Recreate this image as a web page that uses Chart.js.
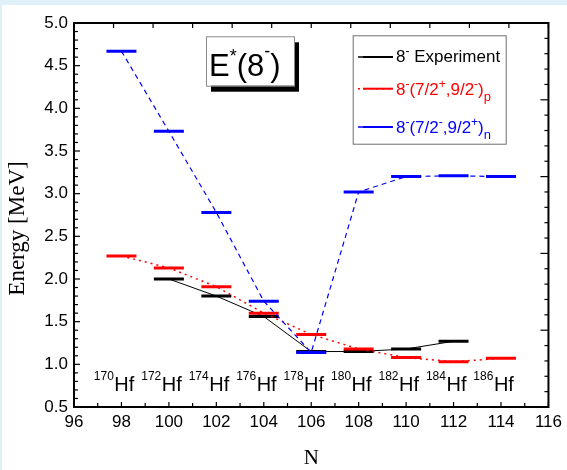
<!DOCTYPE html>
<html>
<head>
<meta charset="utf-8">
<script src="https://cdn.jsdelivr.net/npm/chart.js@4.4.1/dist/chart.umd.min.js"></script>
<style>
  html, body { margin: 0; padding: 0; background: #dff0f9; }
  #panel { position: absolute; left: 2px; top: 5px; width: 565px; height: 465px; background: #fff; }
</style>
</head>
<body>
<div id="panel"><canvas id="chart" width="565" height="465"></canvas></div>
<script>
"use strict";

// neutron number of each Hf isotope
const nNumbers = [98, 100, 102, 104, 106, 108, 110, 112, 114];
const isotopes = ["170", "172", "174", "176", "178", "180", "182", "184", "186"];

// 8- energies in MeV
const expN = [100, 102, 104, 106, 108, 110, 112];
const expEnergy = [2.00, 1.80, 1.56, 1.15, 1.15, 1.18, 1.27];
const protonEnergy = [2.27, 2.13, 1.91, 1.60, 1.35, 1.18, 1.08, 1.03, 1.07];
const neutronEnergy = [4.67, 3.73, 2.78, 1.74, 1.14, 3.02, 3.20, 3.21, 3.20];

// axis ranges
const xRange = [96, 116];
const yRange = [0.5, 5.0];

const sans = '"Liberation Sans", Arial, sans-serif';
const serif = '"Liberation Serif", "Times New Roman", serif';

// legend texts as [text, size, dy] runs (super/subscripts)
const legendRuns = [
    [["8", 17], ["-", 12, -7], [" Experiment", 17]],
    [["8", 17], ["-", 12, -7], ["(7/2", 17], ["+", 12, -7], [",9/2", 17], ["-", 12, -7], [")", 17], ["p", 13, 6]],
    [["8", 17], ["-", 12, -7], ["(7/2", 17], ["-", 12, -7], [",9/2", 17], ["+", 12, -7], [")", 17], ["n", 13, 6]]
];

function toPoints(xs, ys) {
    return xs.map((x, i) => ({ x: x, y: ys[i] }));
}

function richText(ctx, x, y, runs, family, color) {
    ctx.fillStyle = color;
    ctx.textAlign = "left";
    ctx.textBaseline = "alphabetic";
    runs.forEach(r => {
        ctx.font = r[1] + "px " + family;
        ctx.fillText(r[0], x, y + (r[2] || 0));
        x += ctx.measureText(r[0]).width;
    });
    return x;
}

// inward tick marks along one side of the frame
function tickMarks(ctx, scale, from, count, step, majorEvery, pos, dir, majorLen, minorLen) {
    const horiz = scale.isHorizontal();
    for (let i = 0; i <= count; i++) {
        const p = scale.getPixelForValue(from + i * step);
        const len = (i % majorEvery === 0) ? majorLen : minorLen;
        ctx.beginPath();
        if (horiz) {
            ctx.moveTo(p, pos);
            ctx.lineTo(p, pos + dir * len);
        } else {
            ctx.moveTo(pos, p);
            ctx.lineTo(pos + dir * len, p);
        }
        ctx.stroke();
    }
}

const decor = {
    id: "decor",
    afterDatasetsDraw(chart) {
        const { ctx, chartArea: a, scales } = chart;
        ctx.save();

        // isotope labels
        const yLab = scales.y.getPixelForValue(0.69);
        nNumbers.forEach((n, i) => {
            const x = scales.x.getPixelForValue(n - 0.3);
            ctx.font = "20px " + sans;
            ctx.fillStyle = "#000";
            ctx.textAlign = "left";
            ctx.textBaseline = "alphabetic";
            ctx.fillText("Hf", x, yLab);
            ctx.font = "12px " + sans;
            ctx.textAlign = "right";
            ctx.fillText(isotopes[i], x - 0.5, yLab - 10.5);
        });

        // frame and ticks
        ctx.strokeStyle = "#000";
        ctx.lineWidth = 1.2;
        tickMarks(ctx, scales.x, xRange[0], 20, 1, 2, a.bottom, -1, 5, 4);
        tickMarks(ctx, scales.y, yRange[0], 45, 0.1, 5, a.left, 1, 6, 4);
        tickMarks(ctx, scales.x2, 0, 12, 1, 1, a.top, 1, 5, 5);
        tickMarks(ctx, scales.y2, 0, 25, 0.2, 5, a.right, -1, 8, 4);
        ctx.lineWidth = 2;
        ctx.strokeRect(a.left, a.top, a.right - a.left, a.bottom - a.top);

        // title box with shadow
        const bx = a.left + 132, by = a.top + 13.3, bw = 88, bh = 49.4;
        ctx.fillStyle = "#000";
        ctx.fillRect(bx + 5, by + 6, bw, bh);
        ctx.fillStyle = "#fff";
        ctx.fillRect(bx, by, bw, bh);
        ctx.strokeStyle = "#8a8a8a";
        ctx.lineWidth = 1;
        ctx.strokeRect(bx + 0.5, by + 0.5, bw, bh);
        richText(ctx, bx + 3, by + 39.6, [["E", 31], ["*", 18, -14], ["(8", 31], ["-", 18, -19], [")", 31]], sans, "#000");

        // legend box
        const lx = a.left + 278.7, ly = a.top + 12.3, lw = 153, lh = 108.4;
        const rowLine = [21.7, 53.4, 91.7];
        const rowText = [27, 59.3, 97.7];
        ctx.fillStyle = "#fff";
        ctx.fillRect(lx, ly, lw, lh);
        ctx.strokeStyle = "#6e6e6e";
        ctx.strokeRect(lx + 0.5, ly + 0.5, lw, lh);
        chart.data.datasets.forEach((ds, i) => {
            const yy = ly + rowLine[i];
            ctx.strokeStyle = ds.borderColor;
            ctx.lineWidth = 1.5;
            ctx.setLineDash(ds.borderDash || []);
            ctx.beginPath();
            ctx.moveTo(lx + 5.3, yy);
            ctx.lineTo(lx + 40.3, yy);
            ctx.stroke();
            ctx.setLineDash([]);
            ctx.lineWidth = 2;
            ctx.beginPath();
            ctx.moveTo(lx + 10.3, yy);
            ctx.lineTo(lx + 40.3, yy);
            ctx.stroke();
            richText(ctx, lx + 43.3, ly + rowText[i], legendRuns[i], sans, ds.borderColor);
        });

        // y axis title
        ctx.save();
        ctx.translate(15.5, 223.5);
        ctx.rotate(-Math.PI / 2);
        ctx.font = "23px " + serif;
        ctx.fillStyle = "#000";
        ctx.textAlign = "center";
        ctx.textBaseline = "middle";
        ctx.fillText("Energy [MeV]", 0, 0);
        ctx.restore();

        ctx.restore();
    }
};

const lineBase = {
    pointStyle: "line",
    pointRadius: 15,
    pointHoverRadius: 15,
    pointBorderWidth: 3,
    fill: false,
    tension: 0
};

const chart = new Chart(document.getElementById("chart"), {
    type: "line",
    data: {
        datasets: [
            Object.assign({}, lineBase, {
                label: "8- Experiment",
                data: toPoints(expN, expEnergy),
                borderColor: "#000000",
                backgroundColor: "#000000",
                borderWidth: 1,
                order: 3
            }),
            Object.assign({}, lineBase, {
                label: "8-(7/2+,9/2-)p",
                data: toPoints(nNumbers, protonEnergy),
                borderColor: "#ff0000",
                backgroundColor: "#ff0000",
                borderWidth: 1.5,
                borderDash: [2, 4],
                order: 2
            }),
            Object.assign({}, lineBase, {
                label: "8-(7/2-,9/2+)n",
                data: toPoints(nNumbers, neutronEnergy),
                borderColor: "#0000ff",
                backgroundColor: "#0000ff",
                borderWidth: 1.2,
                borderDash: [5, 4],
                order: 1
            })
        ]
    },
    options: {
        responsive: false,
        devicePixelRatio: 1,
        animation: false,
        layout: { padding: { top: 14, right: 15, left: 0, bottom: 0 } },
        plugins: {
            legend: { display: false },
            tooltip: { enabled: false }
        },
        scales: {
            x: {
                type: "linear",
                position: "bottom",
                min: xRange[0],
                max: xRange[1],
                grid: { display: false, drawTicks: false },
                border: { display: false },
                ticks: {
                    stepSize: 2,
                    padding: 5,
                    color: "#000",
                    font: { family: sans, size: 17 },
                    callback: v => String(v)
                },
                title: {
                    display: true,
                    text: "N",
                    color: "#000",
                    font: { family: serif, size: 21, lineHeight: 1 },
                    padding: { top: 0, bottom: 1 }
                },
                afterFit(scale) { scale.height = 63; }
            },
            y: {
                type: "linear",
                position: "left",
                min: yRange[0],
                max: yRange[1],
                grid: { display: false, drawTicks: false },
                border: { display: false },
                ticks: {
                    stepSize: 0.5,
                    padding: 6,
                    color: "#000",
                    font: { family: sans, size: 17 },
                    callback: v => v.toFixed(1)
                },
                afterFit(scale) { scale.width = 72; }
            },
            // unlabelled mirror axes of the frame
            x2: { type: "linear", position: "top", min: 0, max: 12, display: false },
            y2: { type: "linear", position: "right", min: 0, max: 5, display: false }
        }
    },
    plugins: [decor]
});
</script>
</body>
</html>
